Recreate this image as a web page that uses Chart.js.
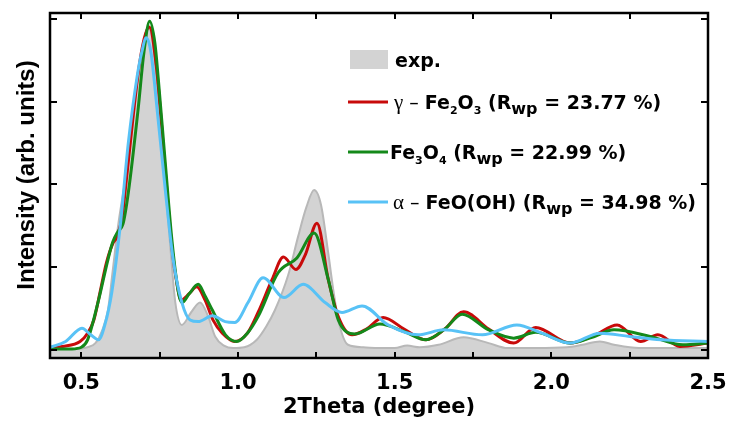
<!DOCTYPE html>
<html>
<head>
<meta charset="utf-8">
<script src="https://cdn.jsdelivr.net/npm/chart.js@4.4.1/dist/chart.umd.min.js"></script>
<style>
  html, body { margin: 0; padding: 0; background: #fff; }
</style>
</head>
<body>
<canvas id="main-chart" width="729" height="427"></canvas>
<script>
// exp. pattern (grey area)
const expX = [0.40, 0.48, 0.52, 0.545, 0.565, 0.585, 0.60, 0.617, 0.65, 0.681, 0.700, 0.713, 0.727, 0.742, 0.757, 0.783, 0.800, 0.821, 0.850, 0.879, 0.905, 0.927, 0.955, 0.985, 1.02, 1.06, 1.09, 1.118, 1.16, 1.192, 1.218, 1.243, 1.265, 1.288, 1.305, 1.32, 1.351, 1.40, 1.45, 1.50, 1.54, 1.58, 1.64, 1.72, 1.80, 1.86, 1.95, 2.05, 2.10, 2.155, 2.20, 2.28, 2.40, 2.50];
const expY = [0.01, 0.01, 0.03, 0.08, 0.22, 0.48, 0.95, 1.49, 2.3, 3.3, 3.75, 3.9, 3.75, 3.2, 2.5, 1.29, 0.57, 0.30, 0.45, 0.57, 0.40, 0.16, 0.05, 0.02, 0.03, 0.12, 0.28, 0.48, 0.9, 1.37, 1.72, 1.93, 1.75, 1.17, 0.7, 0.36, 0.06, 0.03, 0.02, 0.02, 0.05, 0.03, 0.06, 0.15, 0.08, 0.02, 0.02, 0.03, 0.06, 0.1, 0.06, 0.02, 0.02, 0.02];

// gamma-Fe2O3 fit
const redX = [0.40, 0.44, 0.496, 0.52, 0.54, 0.56, 0.58, 0.60, 0.613, 0.63, 0.645, 0.68, 0.70, 0.717, 0.74, 0.767, 0.79, 0.805, 0.818, 0.845, 0.868, 0.895, 0.92, 0.95, 0.99, 1.03, 1.064, 1.109, 1.145, 1.185, 1.215, 1.252, 1.288, 1.32, 1.364, 1.41, 1.463, 1.53, 1.60, 1.66, 1.72, 1.80, 1.88, 1.95, 2.06, 2.14, 2.21, 2.285, 2.34, 2.41, 2.50];
const redY = [0.02, 0.04, 0.1, 0.2, 0.36, 0.7, 1.05, 1.28, 1.36, 1.6, 2.1, 3.3, 3.75, 3.9, 3.4, 2.2, 1.2, 0.8, 0.6, 0.68, 0.76, 0.6, 0.36, 0.2, 0.1, 0.2, 0.45, 0.85, 1.12, 0.97, 1.15, 1.53, 0.85, 0.4, 0.18, 0.25, 0.39, 0.25, 0.12, 0.25, 0.46, 0.25, 0.08, 0.27, 0.08, 0.18, 0.30, 0.1, 0.18, 0.04, 0.08];

// Fe3O4 fit
const greenX = [0.40, 0.47, 0.50, 0.52, 0.553, 0.585, 0.60, 0.617, 0.633, 0.65, 0.681, 0.70, 0.718, 0.735, 0.745, 0.767, 0.79, 0.81, 0.821, 0.845, 0.873, 0.895, 0.918, 0.96, 0.996, 1.03, 1.064, 1.128, 1.188, 1.243, 1.288, 1.32, 1.373, 1.453, 1.53, 1.60, 1.66, 1.715, 1.80, 1.88, 1.95, 2.06, 2.13, 2.20, 2.315, 2.42, 2.50];
const greenY = [0.01, 0.01, 0.03, 0.12, 0.57, 1.09, 1.3, 1.43, 1.52, 1.9, 2.9, 3.6, 3.97, 3.7, 3.3, 2.3, 1.29, 0.69, 0.57, 0.68, 0.79, 0.65, 0.48, 0.18, 0.1, 0.2, 0.4, 0.93, 1.11, 1.41, 0.85, 0.36, 0.19, 0.31, 0.22, 0.12, 0.25, 0.43, 0.24, 0.14, 0.21, 0.08, 0.15, 0.24, 0.16, 0.06, 0.08];

// alpha-FeO(OH) fit
const blueX = [0.40, 0.45, 0.502, 0.53, 0.555, 0.575, 0.597, 0.624, 0.65, 0.678, 0.693, 0.707, 0.722, 0.742, 0.767, 0.793, 0.821, 0.847, 0.873, 0.918, 0.959, 0.99, 1.032, 1.08, 1.147, 1.208, 1.278, 1.332, 1.396, 1.479, 1.575, 1.656, 1.78, 1.89, 1.97, 2.06, 2.155, 2.25, 2.35, 2.50];
const blueY = [0.03, 0.1, 0.26, 0.18, 0.12, 0.3, 0.69, 1.49, 2.5, 3.3, 3.6, 3.77, 3.6, 2.9, 1.97, 1.09, 0.57, 0.36, 0.34, 0.41, 0.34, 0.33, 0.57, 0.87, 0.63, 0.79, 0.57, 0.45, 0.53, 0.3, 0.18, 0.24, 0.18, 0.3, 0.2, 0.08, 0.2, 0.16, 0.12, 0.1];

const xTicks = [0.5, 1.0, 1.5, 2.0, 2.5];
const xMinorTicks = [0.75, 1.25, 1.75, 2.25];
const yTicks = [0, 1, 2, 3, 4];

const RED = '#c80a0a', GREEN = '#14891a', BLUE = '#58c2f6', GREY = '#d3d3d3', GREY_LINE = '#b8b8b8';

function points(xs, ys) {
	return xs.map((x, i) => ({x: x, y: ys[i]}));
}

const FONT = '"DejaVu Sans", sans-serif';
const BIG = 'bold 19px ' + FONT, SUB = 'bold 11px ' + FONT, WP = 'bold 16px ' + FONT;

// legend rows: [text, font, baseline shift]
const legendRows = [
	{color: RED, y: 102, x: 394, runs: [
		['γ', '21px "Liberation Serif"', 0], [' – ', '19px ' + FONT, 0],
		['Fe', BIG, 0], ['2', SUB, 5], ['O', BIG, 0], ['3', SUB, 5],
		[' (R', BIG, 0], ['wp', WP, 5], [' = 23.77 %)', BIG, 0]]},
	{color: GREEN, y: 152, x: 390, runs: [
		['Fe', BIG, 0], ['3', SUB, 5], ['O', BIG, 0], ['4', SUB, 5],
		[' (R', BIG, 0], ['wp', WP, 5], [' = 22.99 %)', BIG, 0]]},
	{color: BLUE, y: 202, x: 393, runs: [
		['α', '21px "Liberation Serif"', 0], [' – ', '19px ' + FONT, 0],
		['FeO(OH) (R', BIG, 0], ['wp', WP, 5], [' = 34.98 %)', BIG, 0]]}
];

const framePlugin = {
	id: 'frame',
	afterDraw(chart) {
		const ctx = chart.ctx;
		const a = chart.chartArea;
		const xs = chart.scales.x, ys = chart.scales.y;
		ctx.save();
		ctx.strokeStyle = '#000';
		ctx.lineWidth = 2.5;
		ctx.strokeRect(a.left, a.top, a.right - a.left, a.bottom - a.top);
		ctx.lineWidth = 2;
		ctx.beginPath();
		xTicks.concat(xMinorTicks).forEach(v => {
			const px = Math.round(xs.getPixelForValue(v));
			ctx.moveTo(px, a.bottom); ctx.lineTo(px, a.bottom - 6);
			ctx.moveTo(px, a.top); ctx.lineTo(px, a.top + 6);
		});
		yTicks.forEach(v => {
			const py = Math.round(ys.getPixelForValue(v));
			ctx.moveTo(a.left, py); ctx.lineTo(a.left + 7, py);
			ctx.moveTo(a.right, py); ctx.lineTo(a.right - 7, py);
		});
		ctx.stroke();

		// y title
		ctx.fillStyle = '#000';
		ctx.font = 'bold 24px "Liberation Sans", Arial, sans-serif';
		ctx.textAlign = 'center';
		ctx.textBaseline = 'middle';
		ctx.translate(27, 175);
		ctx.rotate(-Math.PI / 2);
		ctx.fillText('Intensity (arb. units)', 0, 0);
		ctx.restore();

		// legend
		ctx.save();
		ctx.fillStyle = GREY;
		ctx.fillRect(350, 50, 38, 19);
		ctx.fillStyle = '#000';
		ctx.textBaseline = 'alphabetic';
		ctx.textAlign = 'left';
		ctx.font = BIG;
		ctx.fillText('exp.', 395, 67);
		legendRows.forEach(row => {
			ctx.strokeStyle = row.color;
			ctx.lineWidth = 3;
			ctx.beginPath();
			ctx.moveTo(348, row.y); ctx.lineTo(388, row.y);
			ctx.stroke();
			let x = row.x;
			row.runs.forEach(r => {
				ctx.font = r[1];
				ctx.fillText(r[0], x, row.y + 7 + r[2]);
				x += ctx.measureText(r[0]).width;
			});
		});
		ctx.restore();
	}
};

const ctx = document.getElementById('main-chart');
const chart = new Chart(ctx, {
	type: 'line',
	data: {
		datasets: [
			{label: 'exp.', data: points(expX, expY), order: 4, fill: 'start',
				backgroundColor: GREY, borderColor: GREY_LINE, borderWidth: 2},
			{label: 'γ – Fe2O3 (Rwp = 23.77 %)', data: points(redX, redY), order: 3, fill: false,
				borderColor: RED, borderWidth: 3},
			{label: 'Fe3O4 (Rwp = 22.99 %)', data: points(greenX, greenY), order: 2, fill: false,
				borderColor: GREEN, borderWidth: 3},
			{label: 'α – FeO(OH) (Rwp = 34.98 %)', data: points(blueX, blueY), order: 1, fill: false,
				borderColor: BLUE, borderWidth: 3}
		]
	},
	options: {
		responsive: false,
		animation: false,
		events: [],
		layout: {padding: {top: 13, right: 21, bottom: 0, left: 0}},
		elements: {
			point: {radius: 0},
			line: {cubicInterpolationMode: 'monotone'}
		},
		plugins: {legend: {display: false}, tooltip: {enabled: false}},
		scales: {
			x: {
				type: 'linear', min: 0.4, max: 2.5,
				grid: {display: false}, border: {display: false},
				afterBuildTicks: s => { s.ticks = xTicks.map(v => ({value: v})); },
				afterFit: s => { s.height = 69; s.paddingLeft = 0; s.paddingRight = 0; },
				ticks: {
					autoSkip: false, maxRotation: 0, padding: 5, color: '#000',
					font: {family: FONT, size: 21, weight: 'bold'},
					callback: v => v.toFixed(1)
				},
				title: {
					display: true, text: '2Theta (degree)', color: '#000',
					font: {family: FONT, size: 21, weight: 'bold'},
					padding: {top: 0, bottom: 7}
				}
			},
			y: {
				type: 'linear', min: -0.1, max: 4.07,
				grid: {display: false}, border: {display: false},
				afterBuildTicks: s => { s.ticks = yTicks.map(v => ({value: v})); },
				afterFit: s => { s.width = 50; s.paddingTop = 0; s.paddingBottom = 0; },
				ticks: {display: false}
			}
		}
	},
	plugins: [framePlugin]
});
</script>
</body>
</html>
